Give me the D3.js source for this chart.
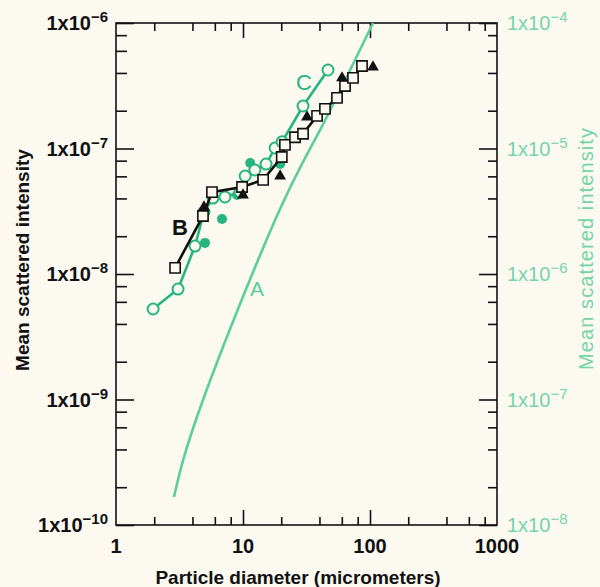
<!DOCTYPE html>
<html>
<head>
<meta charset="utf-8">
<script src="https://cdn.jsdelivr.net/npm/d3@7"></script>
<style>
  body { margin: 0; background: #fcf9f1; }
  svg { display: block; }
  text { font-family: "Liberation Sans", Arial, Helvetica, sans-serif; }
</style>
</head>
<body>
<div id="chart"></div>
<script>
var w = 600;
var h = 587;

// curve B (open squares, black line)
var bX = [2.92, 4.84, 5.7, 9.83, 14.4, 20.2, 21.4, 25.7, 29.7, 38.3, 44.2, 55, 63.6, 73.5, 86.5];
var bY = [1.12e-8, 2.9e-8, 4.49e-8, 4.93e-8, 5.62e-8, 8.56e-8, 1.07e-7, 1.23e-7, 1.31e-7, 1.82e-7, 2.07e-7, 2.53e-7, 3.15e-7, 3.65e-7, 4.54e-7];
// black triangles
var triX = [4.93, 10, 19.6, 31.9, 60.2, 105.6];
var triY = [3.42e-8, 4.26e-8, 6.04e-8, 1.78e-7, 3.65e-7, 4.46e-7];
// curve C (open circles, green line)
var cX = [1.96, 3.08, 4.19, 4.93, 5.8, 7.21, 9.47, 10.4, 12.4, 15.2, 17.9, 20.3, 29.7, 46.7];
var cY = [5.26e-9, 7.59e-9, 1.67e-8, 3.12e-8, 4.03e-8, 4.11e-8, 4.5e-8, 6.04e-8, 6.74e-8, 7.52e-8, 1.01e-7, 1.13e-7, 2.18e-7, 4.22e-7];
// filled green dots
var dotX = [5.02, 6.83, 8.97, 11.4, 19.6];
var dotY = [1.77e-8, 2.74e-8, 4.26e-8, 7.66e-8, 7.52e-8];
// curve A (theory)
var aX = [2.86, 4.84, 17.9, 40.4, 105.6];
var aY = [1.67e-10, 9.9e-10, 2.69e-8, 1.4e-7, 1e-6];

var xTicks = [1, 10, 100, 1000];
var xMinor = [2, 4, 6, 8, 20, 40, 60, 80, 200, 400, 600, 800];
var leftTicks = [1e-6, 1e-7, 1e-8, 1e-9, 1e-10];
var rightTicks = [1e-4, 1e-5, 1e-6, 1e-7, 1e-8];

var green = "#27b57f";
var lightGreen = "#5ccd9c";
var labelGreen = "#74d4aa";

var svg = d3.select("#chart").append("svg").attr("width", w).attr("height", h);

var x = d3.scaleLog().domain([1, 1000]).range([116, 497]);
var y = d3.scaleLog().domain([1e-10, 1e-6]).range([525, 23]);
var yR = d3.scaleLog().domain([1e-8, 1e-4]).range([525, 23]);

function minorsOf(ticks) {
    var out = [];
    ticks.forEach(function(t, i) {
        if (i < ticks.length - 1) [2, 4, 6, 8].forEach(function(m) { out.push(Math.min(t, ticks[i + 1]) * m); });
    });
    return out;
}
var yMinor = minorsOf(leftTicks);
var yRMinor = minorsOf(rightTicks);

// frame
svg.append("rect").attr("x", 116).attr("y", 23).attr("width", 381).attr("height", 502)
    .attr("fill", "none").attr("stroke", "#111").attr("stroke-width", 1.6);

function ticks(axis, tr) {
    var g = svg.append("g").attr("transform", tr).call(axis.tickFormat("").tickSizeOuter(0));
    g.select(".domain").remove();
    g.selectAll("line").attr("stroke", "#111").attr("stroke-width", 1.6);
}
ticks(d3.axisTop(x).tickValues([10, 100]).tickSize(15), "translate(0,525)");
ticks(d3.axisTop(x).tickValues(xMinor).tickSize(8), "translate(0,525)");
ticks(d3.axisBottom(x).tickValues([10, 100]).tickSize(15), "translate(0,23)");
ticks(d3.axisBottom(x).tickValues(xMinor).tickSize(8), "translate(0,23)");
ticks(d3.axisRight(y).tickValues(leftTicks).tickSize(18), "translate(116,0)");
ticks(d3.axisRight(y).tickValues(yMinor).tickSize(11), "translate(116,0)");
ticks(d3.axisLeft(yR).tickValues(rightTicks).tickSize(18), "translate(497,0)");
ticks(d3.axisLeft(yR).tickValues(yRMinor).tickSize(9), "translate(497,0)");

// tick labels
svg.selectAll(".xl").data(xTicks).enter().append("text")
    .attr("x", function(d) { return x(d); }).attr("y", 553)
    .attr("text-anchor", "middle").attr("font-size", 20).attr("font-weight", "bold")
    .attr("fill", "#111").text(function(d) { return d; });

function sciLabel(sel, color, weight) {
    sel.attr("font-size", 20).attr("font-weight", weight).attr("fill", color).attr("dy", "0.35em");
    sel.append("tspan").text("1x10");
    sel.append("tspan").attr("dy", -8).attr("font-size", 15)
        .text(function(d) { return "\u2212" + Math.round(-Math.log10(d)); });
}
svg.selectAll(".yl").data(leftTicks).enter().append("text")
    .attr("x", 108).attr("y", function(d) { return y(d); })
    .attr("text-anchor", "end").call(sciLabel, "#111", "bold");
svg.selectAll(".yr").data(rightTicks).enter().append("text")
    .attr("x", 507).attr("y", function(d) { return yR(d); })
    .attr("text-anchor", "start").call(sciLabel, labelGreen, "normal");

// axis titles
svg.append("text").attr("x", 298).attr("y", 584).attr("text-anchor", "middle")
    .attr("font-size", 19).attr("font-weight", "bold").attr("fill", "#111")
    .text("Particle diameter (micrometers)");
svg.append("text").attr("transform", "translate(29,260) rotate(-90)").attr("text-anchor", "middle")
    .attr("font-size", 19).attr("font-weight", "bold").attr("fill", "#111")
    .text("Mean scattered intensity");
svg.append("text").attr("transform", "translate(593,249) rotate(-90)").attr("text-anchor", "middle")
    .attr("font-size", 20).attr("fill", labelGreen).attr("textLength", 242)
    .text("Mean scattered intensity");

// lines
var aPts = aX.map(function(d, i) { return [d, aY[i]]; });
var bPts = bX.map(function(d, i) { return [d, bY[i]]; });
var cPts = cX.map(function(d, i) { return [d, cY[i]]; });
var triPts = triX.map(function(d, i) { return [d, triY[i]]; });
var dotPts = dotX.map(function(d, i) { return [d, dotY[i]]; });

var line = d3.line().x(function(d) { return x(d[0]); }).y(function(d) { return y(d[1]); });

svg.append("path").datum(aPts).attr("d", line.curve(d3.curveNatural))
    .attr("fill", "none").attr("stroke", lightGreen).attr("stroke-width", 2.6);
line.curve(d3.curveLinear);
svg.append("path").datum(cPts).attr("d", line)
    .attr("fill", "none").attr("stroke", green).attr("stroke-width", 2.6);

svg.selectAll(".dot").data(dotPts).enter().append("circle")
    .attr("cx", function(d) { return x(d[0]); }).attr("cy", function(d) { return y(d[1]); })
    .attr("r", 5).attr("fill", green);

svg.selectAll(".cc").data(cPts).enter().append("circle")
    .attr("cx", function(d) { return x(d[0]); }).attr("cy", function(d) { return y(d[1]); })
    .attr("r", 5.5).attr("fill", "#fcf9f1").attr("stroke", green).attr("stroke-width", 2);

svg.append("path").datum(bPts).attr("d", line)
    .attr("fill", "none").attr("stroke", "#111").attr("stroke-width", 2.6);

svg.selectAll(".sq").data(bPts).enter().append("path")
    .attr("d", d3.symbol(d3.symbolSquare).size(105))
    .attr("transform", function(d) { return "translate(" + x(d[0]) + "," + y(d[1]) + ")"; })
    .attr("fill", "#fcf9f1").attr("stroke", "#111").attr("stroke-width", 1.6);

svg.selectAll(".tri").data(triPts).enter().append("path")
    .attr("d", d3.symbol(d3.symbolTriangle).size(60))
    .attr("transform", function(d) { return "translate(" + x(d[0]) + "," + y(d[1]) + ")"; })
    .attr("fill", "#111");

// curve letters
svg.append("text").attr("x", 180).attr("y", 235).attr("text-anchor", "middle")
    .attr("font-size", 22).attr("font-weight", "bold").attr("fill", "#111").text("B");
svg.append("text").attr("x", 304).attr("y", 90).attr("text-anchor", "middle")
    .attr("font-size", 22).attr("fill", green).text("C");
svg.append("text").attr("x", 257).attr("y", 296).attr("text-anchor", "middle")
    .attr("font-size", 21).attr("fill", lightGreen).text("A");
</script>
</body>
</html>
